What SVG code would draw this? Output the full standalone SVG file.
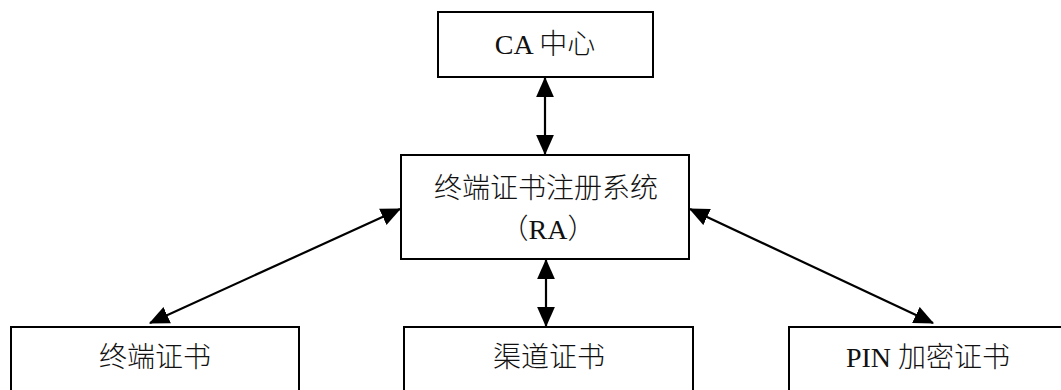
<svg xmlns="http://www.w3.org/2000/svg" width="1061" height="390" viewBox="0 0 1061 390">
<style>
.box{fill:#fff;stroke:#000;stroke-width:2}
.t{font-family:"Liberation Serif","Noto Sans CJK SC",serif;font-size:28px;fill:#111;text-anchor:middle;font-weight:300}
.c{stroke:#000;stroke-width:2.2;fill:none;marker-start:url(#ah);marker-end:url(#ah)}
</style>
<defs>
<marker id="ah" markerUnits="userSpaceOnUse" markerWidth="20" markerHeight="18" viewBox="0 0 18 16" refX="17" refY="8" orient="auto-start-reverse">
<path d="M0,0 L18,8 L0,16 Z" fill="#000"/>
</marker>
</defs>
<rect width="1061" height="390" fill="#fff"/>
<g id="connectors">
<line class="c" x1="545" y1="78" x2="545" y2="154"/>
<line class="c" x1="546" y1="260" x2="546" y2="326"/>
<line class="c" x1="150" y1="323" x2="400" y2="209"/>
<line class="c" x1="690" y1="209" x2="933" y2="323"/>
</g>
<g id="ca">
<rect class="box" x="438" y="12" width="215" height="65"/>
<text class="t" x="545" y="54">CA 中心</text>
</g>
<g id="ra">
<rect class="box" x="401" y="155" width="288" height="104"/>
<text class="t" x="546" y="198">终端证书注册系统</text>
<text class="t" x="548" y="239">（RA）</text>
</g>
<g id="terminal">
<rect class="box" x="11" y="327" width="288" height="80"/>
<text class="t" x="155" y="367">终端证书</text>
</g>
<g id="channel">
<rect class="box" x="404" y="327" width="289" height="80"/>
<text class="t" x="549" y="367">渠道证书</text>
</g>
<g id="pin">
<rect class="box" x="789" y="327" width="280" height="80"/>
<text class="t" x="928" y="367">PIN 加密证书</text>
</g>
</svg>
